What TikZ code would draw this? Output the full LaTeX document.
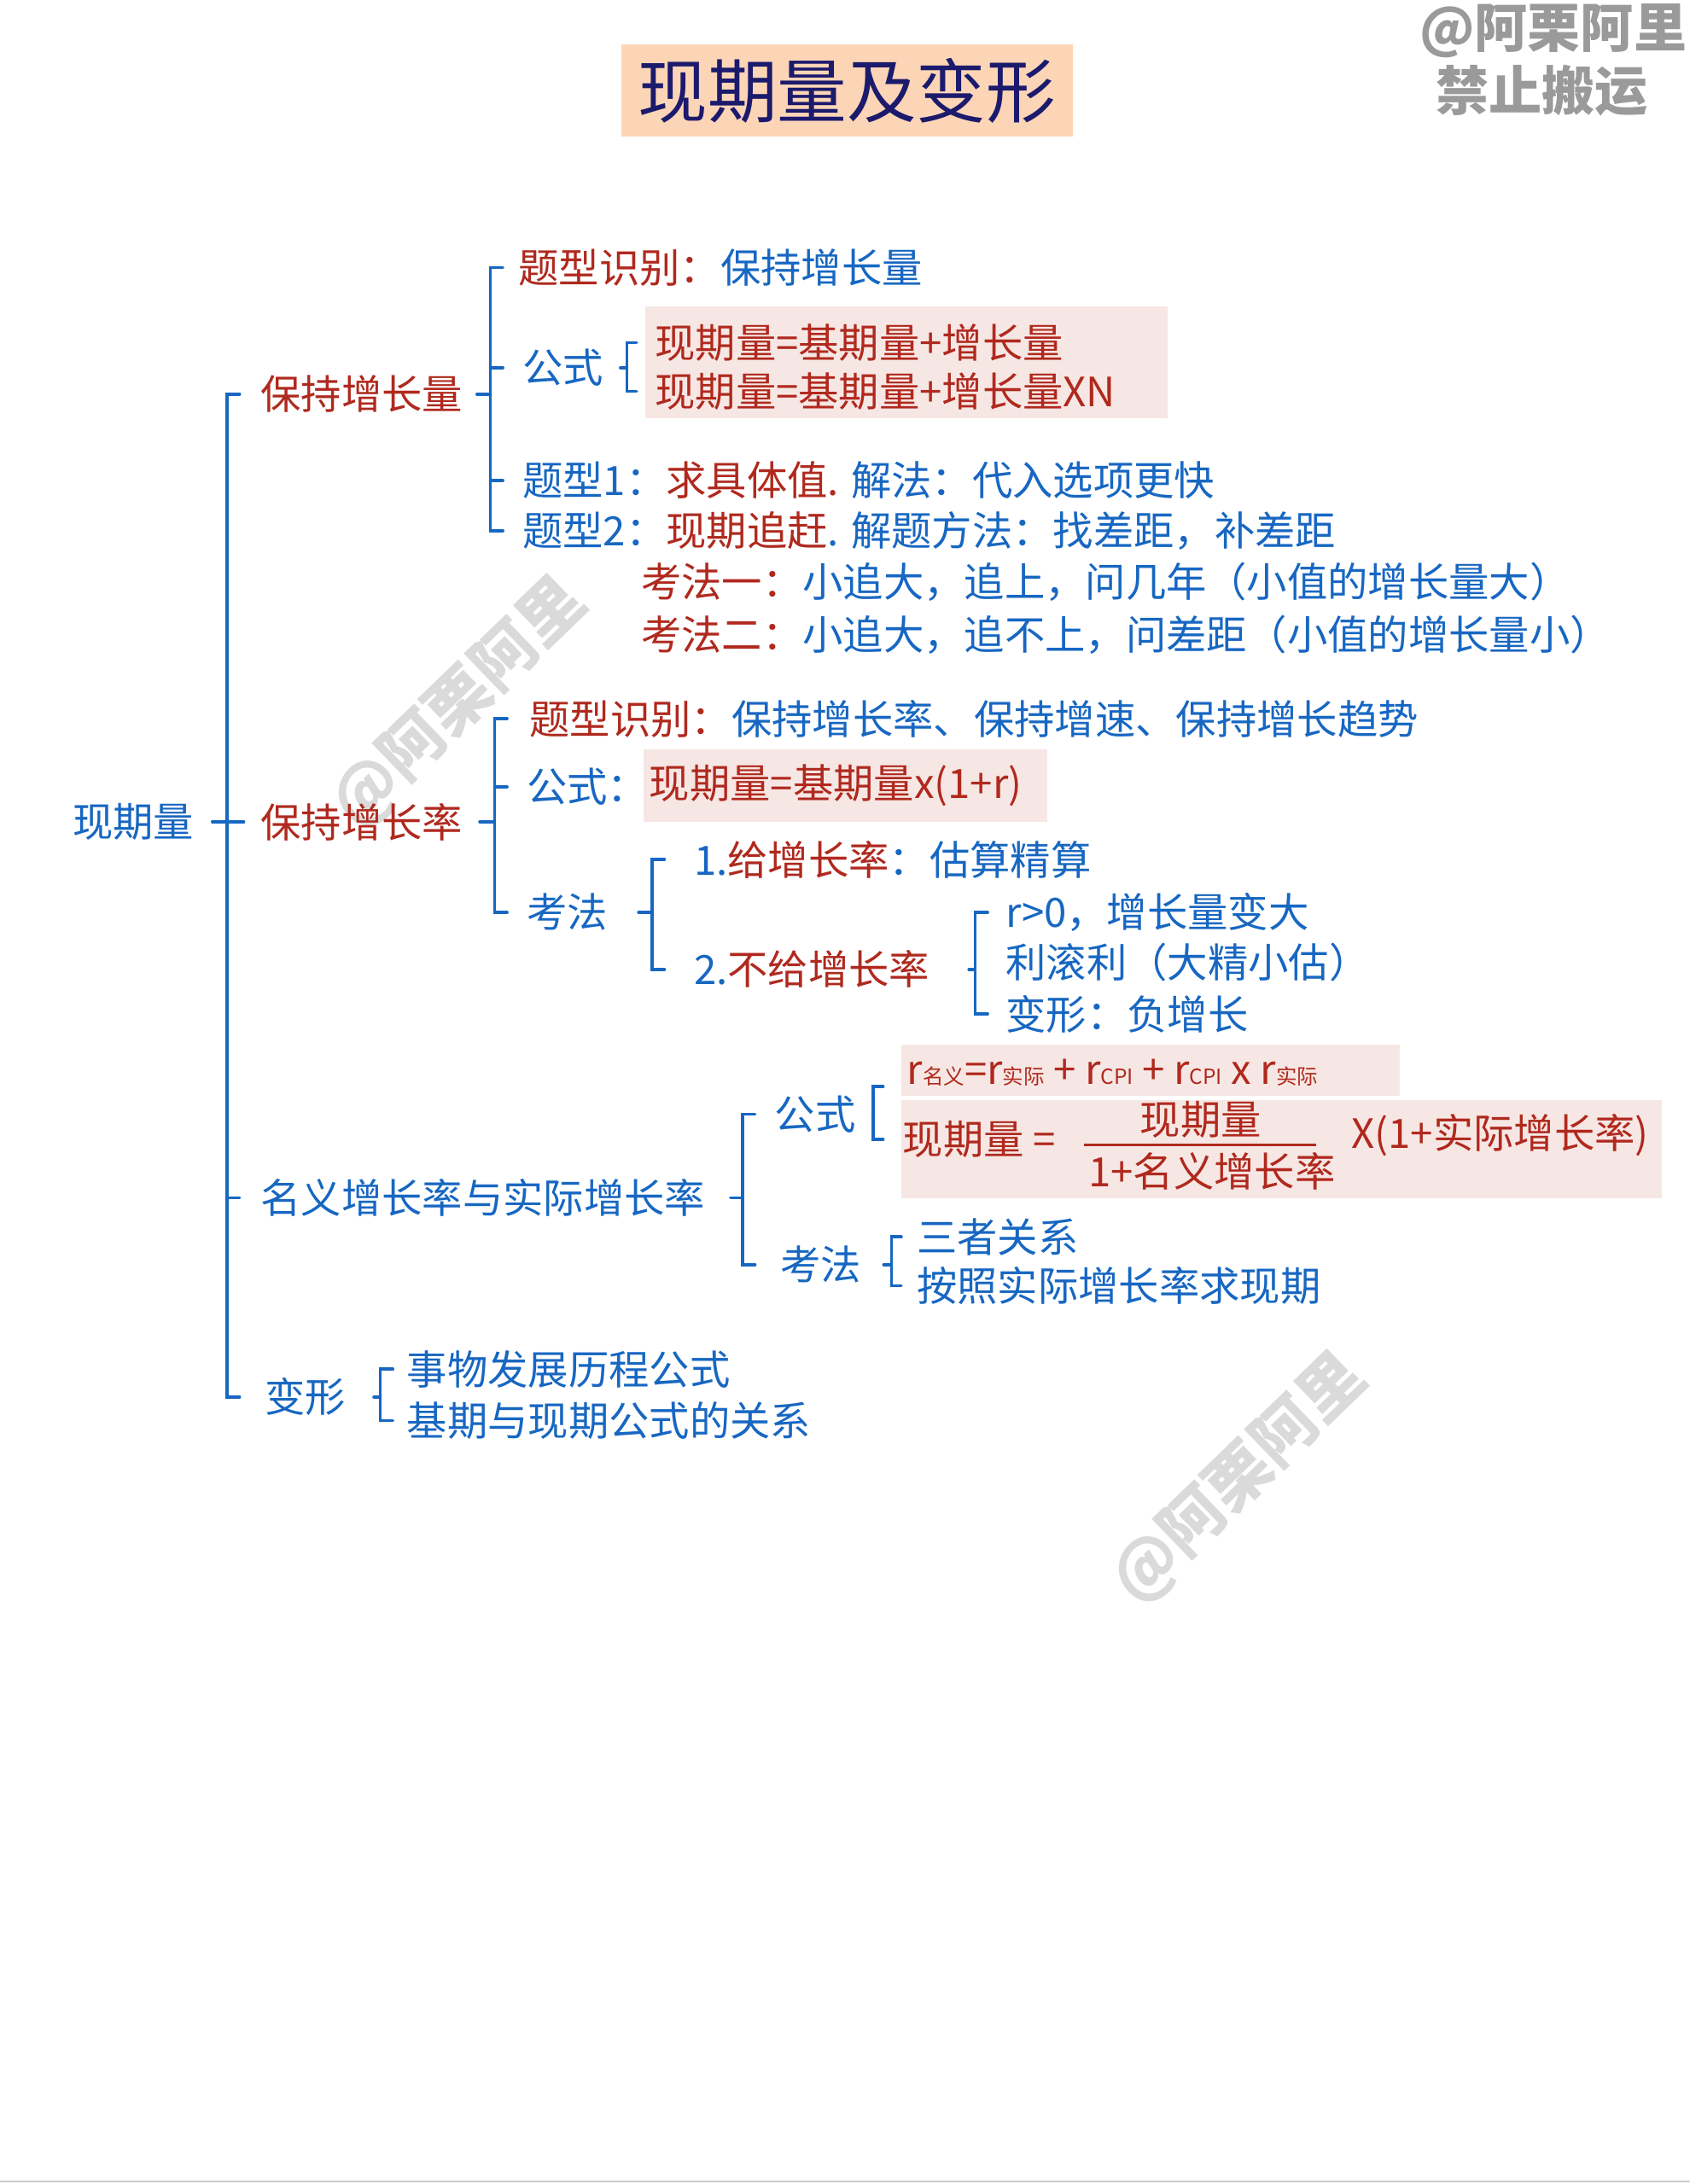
\documentclass[tikz,border=0pt]{standalone}
\usepackage{fontspec}
\setmainfont{Noto Sans CJK SC}
\usetikzlibrary{calc}
\definecolor{cb}{HTML}{1767C2}
\definecolor{cr}{HTML}{B0291E}
\definecolor{pk}{HTML}{F7E7E4}
\definecolor{tf}{HTML}{FCD5B7}
\definecolor{tn}{HTML}{1B1A6C}
\definecolor{wm}{HTML}{9A9A9A}
\definecolor{wl}{HTML}{DADADA}
\newcommand\qb[1]{\textcolor{cb}{#1}}
\newcommand\qr[1]{\textcolor{cr}{#1}}
\newcommand\ssb[1]{{\fontsize{15}{16}\selectfont #1}}
\tikzset{
  t/.style={anchor=west, inner sep=0pt, font=\fontsize{29}{33}\selectfont, text=cb},
  tr/.style={t, text=cr},
  ln/.style={draw=cb, line width=2.2pt, line cap=round},
  wmk/.style={text=wl, font=\fontsize{46}{50}\selectfont\bfseries, rotate=44},
}
\begin{document}
\begin{tikzpicture}[x=1pt,y=-1pt]
\useasboundingbox[fill=white] (0,0) rectangle (1213,1568);
\draw[gray!40, line width=1pt] (0,1566) -- (1213,1566);

% watermarks
\node[text=wm, font=\fontsize{38}{42}\selectfont\bfseries] (wm1) at (1115,22) {@阿栗阿里};
\node[text=wm, font=\fontsize{38}{42}\selectfont\bfseries] (wm2) at (1107,65) {禁止搬运};
\node[wmk] (wm3) at (330,505) {@阿栗阿里};
\node[wmk] (wm4) at (890,1062) {@阿栗阿里};

% title
\node[fill=tf, minimum width=324pt, minimum height=66pt, text=tn, font=\fontsize{50}{55}\selectfont] (title) at (608,65) {现期量及变形};

% pink boxes
\fill[pk] (463,220) rectangle (838,300);
\fill[pk] (462,538) rectangle (752,590);
\fill[pk] (647,750) rectangle (1005,787);
\fill[pk] (647,790) rectangle (1193,860);

% bracket x positions
\coordinate (L0) at (163,0);
\coordinate (L1) at (352,0);
\coordinate (L1b) at (450,0);
\coordinate (L2) at (355,0);
\coordinate (L3) at (468,0);
\coordinate (L4) at (700,0);
\coordinate (L5) at (533,0);
\coordinate (L6) at (627,0);
\coordinate (L7) at (640,0);
\coordinate (L8) at (273,0);

% nodes
\node[t] (root) at (52,590) {现期量};
\node[tr] (c1) at (187,283) {保持增长量};
\node[tr] (c2) at (187,590) {保持增长率};
\node[t] (c3) at (187,860) {名义增长率与实际增长率};
\node[t] (c4) at (190,1003) {变形};

\node[t] (a11) at (372,192) {\qr{题型识别：}保持增长量};
\node[t] (a12) at (375,264) {公式};
\node[tr] (a12a) at (470,246) {现期量=基期量+增长量};
\node[tr] (a12b) at (470,281) {现期量=基期量+增长量XN};
\node[t] (a13) at (375,345) {题型1：\qr{求具体值.} 解法：代入选项更快};
\node[t] (a14) at (375,381) {题型2：\qr{现期追赶}. 解题方法：找差距，补差距};
\node[t] (a15) at (460,418) {\qr{考法一：}小追大，追上，问几年（小值的增长量大）};
\node[t] (a16) at (460,456) {\qr{考法二：}小追大，追不上，问差距（小值的增长量小）};

\node[t] (b21) at (380,516) {\qr{题型识别：}保持增长率、保持增速、保持增长趋势};
\node[t] (b22) at (378,565) {公式：};
\node[tr] (b22a) at (466,564) {现期量=基期量x(1+r)};
\node[t] (b23) at (378,655) {考法};
\node[t] (b231) at (498,617) {1.\qr{给增长率}：估算精算};
\node[t] (b232) at (498,696) {2.\qr{不给增长率}};
\node[t] (b41) at (722,655) {r>0，增长量变大};
\node[t] (b42) at (722,691) {利滚利（大精小估）};
\node[t] (b43) at (722,728) {变形：负增长};

\node[t] (d1) at (556,800) {公式};
\node[tr] (fA) at (651,770) {r\ssb{名义}=r\ssb{实际} + r\ssb{CPI} + r\ssb{CPI} x r\ssb{实际}};
\node[tr] (fB) at (648,818) {现期量 =};
\node[tr, anchor=center] (fn) at (862,804) {现期量};
\node[tr, anchor=center] (fd) at (870,841) {1+名义增长率};
\node[tr] (fC) at (970,815) {X(1+实际增长率)};
\draw[cr, line width=2pt] (778,822) -- (945,822);
\node[t] (d2) at (560,908) {考法};
\node[t] (d21) at (658,888) {三者关系};
\node[t] (d22) at (658,923) {按照实际增长率求现期};

\node[t] (e1) at (292,983) {事物发展历程公式};
\node[t] (e2) at (292,1020) {基期与现期公式的关系};

% main bracket
\draw[ln] ($(root.east)+(13,0)$) -- ($(L0 |- root.east)+(12,0)$);
\draw[ln] ($(L0 |- c1.west)+(9,0)$) -- (L0 |- c1.west) -- (L0 |- c4.west) -- +(9,0);
\draw[ln] (L0 |- c3.west) -- +(9,0);

% c1 bracket
\draw[ln] ($(c1.east)+(10,0)$) -- (L1 |- c1.east);
\draw[ln] ($(L1 |- a11.west)+(9,0)$) -- (L1 |- a11.west) -- (L1 |- a14.west) -- +(9,0);
\draw[ln] (L1 |- a12.west) -- +(9,0);
\draw[ln] (L1 |- a13.west) -- +(9,0);
\draw[ln] ($(a12.east)+(12,0)$) -- (L1b |- a12.east);
\draw[ln] ($(L1b |- a12a.west)+(7,0)$) -- (L1b |- a12a.west) -- (L1b |- a12b.west) -- +(7,0);

% c2 bracket
\draw[ln] ($(c2.east)+(12,0)$) -- (L2 |- c2.east);
\draw[ln] ($(L2 |- b21.west)+(9,0)$) -- (L2 |- b21.west) -- (L2 |- b23.west) -- +(9,0);
\draw[ln] (L2 |- b22.west) -- +(9,0);
\draw[ln] ($(b23.east)+(22,0)$) -- (L3 |- b23.east);
\draw[ln] ($(L3 |- b231.west)+(9,0)$) -- (L3 |- b231.west) -- (L3 |- b232.west) -- +(9,0);
\draw[ln] ($(b232.east)+(28,0)$) -- (L4 |- b232.east);
\draw[ln] ($(L4 |- b41.west)+(9,0)$) -- (L4 |- b41.west) -- (L4 |- b43.west) -- +(9,0);

% c3 bracket
\draw[ln] ($(c3.east)+(18,0)$) -- (L5 |- c3.east);
\draw[ln] ($(L5 |- d1.west)+(9,0)$) -- (L5 |- d1.west) -- (L5 |- d2.west) -- +(9,0);
\draw[ln] ($(d1.east)+(12,0)$) -- (L6 |- d1.east);
\draw[ln] ($(L6 |- fA.west)+(7,10)$) -- ($(L6 |- fA.west)+(0,10)$) -- (L6 |- fB.west) -- +(7,0);
\draw[ln] ($(d2.east)+(16,0)$) -- (L7 |- d2.east);
\draw[ln] ($(L7 |- d21.west)+(7,0)$) -- (L7 |- d21.west) -- (L7 |- d22.west) -- +(7,0);

% c4 bracket
\draw[ln] ($(c4.east)+(20,0)$) -- (L8 |- c4.east);
\draw[ln] ($(L8 |- e1.west)+(9,0)$) -- (L8 |- e1.west) -- (L8 |- e2.west) -- +(9,0);
\end{tikzpicture}
\end{document}
